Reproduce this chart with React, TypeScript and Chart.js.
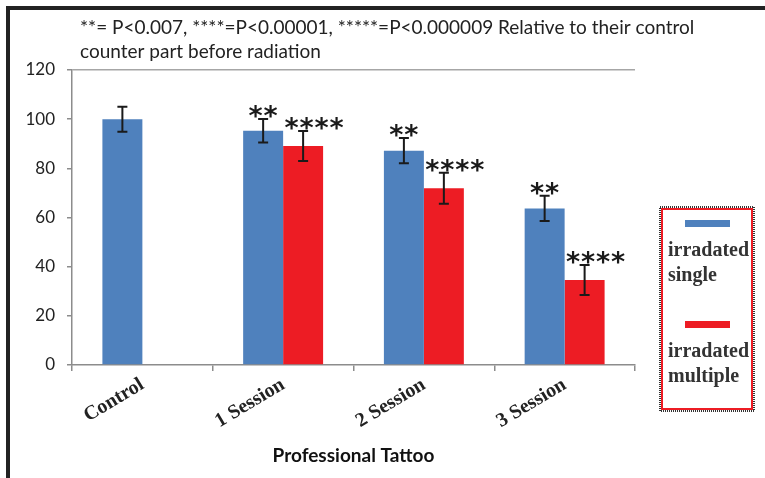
import React, { useEffect, useRef } from 'react';
import { Chart, registerables } from 'chart.js';

Chart.register(...registerables);

const categories = ['Control', '1 Session', '2 Session', '3 Session'];
const singleValues = [100, 95.3, 87.2, 63.7];
const multipleValues: (number | null)[] = [null, 89.1, 71.9, 34.6];
const singleErrors = [5.1, 4.8, 5.1, 5.1];
const multipleErrors = [0, 6.1, 6.3, 6.1];
const singleMarks = ['', '**', '**', '**'];
const multipleMarks = ['', '****', '****', '****'];
const seriesLabels = ['irradated single', 'irradated multiple'];
const titleLines = [
  '**= P<0.007, ****=P<0.00001, *****=P<0.000009 Relative to their control',
  'counter part before radiation',
];
const xAxisTitle = 'Professional Tattoo';
const yMin = 0;
const yMax = 120;
const yStep = 20;

const BLUE = '#4f81bd';
const RED = '#ed1c24';

const errorBarPlugin = {
  id: 'errorBars',
  afterDatasetsDraw(chart: any) {
    const ctx = chart.ctx;
    const y = chart.scales.y;
    const errs = [singleErrors, multipleErrors];
    const marks = [singleMarks, multipleMarks];
    ctx.save();
    chart.data.datasets.forEach((ds: any, i: number) => {
      const meta = chart.getDatasetMeta(i);
      meta.data.forEach((el: any, j: number) => {
        const v = ds.data[j];
        if (v == null) return;
        const e = errs[i][j];
        const yT = y.getPixelForValue(v + e);
        const yB = y.getPixelForValue(v - e);
        ctx.strokeStyle = '#1a1a1a';
        ctx.lineWidth = 2;
        ctx.beginPath();
        ctx.moveTo(el.x, yT);
        ctx.lineTo(el.x, yB);
        ctx.moveTo(el.x - 5, yT);
        ctx.lineTo(el.x + 5, yT);
        ctx.moveTo(el.x - 5, yB);
        ctx.lineTo(el.x + 5, yB);
        ctx.stroke();
        const m = marks[i][j];
        if (m) {
          ctx.font = 'bold 27px "DejaVu Sans"';
          ctx.fillStyle = '#1a1a1a';
          ctx.textAlign = 'center';
          ctx.textBaseline = 'alphabetic';
          const desc = ctx.measureText('*').actualBoundingBoxDescent;
          const step = 15;
          const cx = el.x + (i === 1 ? 11 : 0);
          const start = cx - ((m.length - 1) * step) / 2;
          for (let k = 0; k < m.length; k++) {
            ctx.fillText('*', start + k * step, yT - 1 - desc);
          }
        }
      });
    });
    ctx.restore();
  },
};

const titlePlugin = {
  id: 'topNote',
  afterDraw(chart: any) {
    const ctx = chart.ctx;
    const a = chart.chartArea;
    ctx.save();
    ctx.font = '19px Lato';
    ctx.fillStyle = '#222';
    ctx.textAlign = 'left';
    ctx.textBaseline = 'middle';
    ctx.fillText(titleLines[0], a.left + 8, a.top - 42);
    ctx.fillText(titleLines[1], a.left + 8, a.top - 18);
    ctx.restore();
  },
};

const legendPlugin = {
  id: 'boxLegend',
  afterDraw(chart: any) {
    const ctx = chart.ctx;
    const a = chart.chartArea;
    const x = a.right + 25;
    const y = a.top + 137;
    const w = 94;
    const h = 204;
    ctx.save();
    ctx.lineWidth = 2;
    ctx.strokeStyle = '#333';
    ctx.setLineDash([1, 1]);
    ctx.strokeRect(x, y, w, h);
    ctx.setLineDash([]);
    ctx.strokeStyle = RED;
    ctx.lineWidth = 2;
    ctx.strokeRect(x + 2, y + 2, w - 4, h - 4);
    chart.data.datasets.forEach((ds: any, i: number) => {
      const oy = y + i * 101;
      ctx.fillStyle = ds.backgroundColor;
      ctx.fillRect(x + 25, oy + 13, 45, 7);
      ctx.fillStyle = '#333';
      ctx.font = 'bold 20px "Liberation Serif"';
      ctx.textAlign = 'left';
      ctx.textBaseline = 'middle';
      const parts = String(ds.label).split(' ');
      ctx.fillText(parts[0], x + 8, oy + 44);
      ctx.fillText(parts.slice(1).join(' '), x + 8, oy + 69);
    });
    ctx.restore();
  },
};

export default function App() {
  const ref = useRef<HTMLCanvasElement | null>(null);
  useEffect(() => {
    if (!ref.current) return;
    const chart = new Chart(ref.current, {
      type: 'bar',
      data: {
        labels: categories,
        datasets: [
          {
            label: seriesLabels[0],
            data: singleValues,
            backgroundColor: BLUE,
            categoryPercentage: 0.568,
            barPercentage: 1,
          },
          {
            label: seriesLabels[1],
            data: multipleValues,
            backgroundColor: RED,
            categoryPercentage: 0.568,
            barPercentage: 1,
          },
        ],
      },
      options: {
        animation: false,
        responsive: false,
        maintainAspectRatio: false,
        layout: { padding: { top: 70, right: 130, left: 0, bottom: 0 } },
        plugins: {
          legend: { display: false },
          tooltip: { enabled: false },
          title: { display: false },
        },
        scales: {
          x: {
            grid: {
              display: true,
              drawOnChartArea: false,
              tickLength: 6,
              color: '#8c8c8c',
              tickColor: '#8c8c8c',
              lineWidth: 1.5,
            },
            border: { color: '#8c8c8c', width: 1.5 },
            ticks: {
              autoSkip: false,
              minRotation: 31,
              maxRotation: 31,
              padding: 2,
              color: '#222',
              font: { family: '"Liberation Serif"', size: 20, weight: 'bold' },
            },
            title: {
              display: true,
              text: xAxisTitle,
              color: '#111',
              font: { family: 'Lato', size: 19, weight: 'bold' },
              padding: { top: 0, bottom: 11 },
            },
            afterFit(scale: any) {
              scale.height = 113;
            },
          },
          y: {
            min: yMin,
            max: yMax,
            ticks: {
              stepSize: yStep,
              padding: 12,
              color: '#222',
              font: { family: 'Lato', size: 17 },
            },
            grid: {
              display: true,
              tickLength: 5,
              color: (c: any) => (c.tick && c.tick.value === yMax ? '#a6a6a6' : 'rgba(0,0,0,0)'),
              tickColor: '#8c8c8c',
              lineWidth: 1.5,
            },
            border: { color: '#8c8c8c', width: 1.5 },
            afterFit(scale: any) {
              scale.width = 72;
            },
          },
        },
      },
      plugins: [errorBarPlugin, titlePlugin, legendPlugin],
    } as any);
    return () => chart.destroy();
  }, []);
  return (
    <div style={{ position: 'fixed', left: 0, top: 0, width: 765, height: 478, background: '#fff' }}>
      <canvas ref={ref} width={765} height={478} style={{ display: 'block' }} />
      <div style={{ position: 'absolute', left: 6, top: 6, width: 759, height: 4, background: '#222' }} />
      <div style={{ position: 'absolute', left: 6, top: 6, width: 4, height: 472, background: '#222' }} />
    </div>
  );
}
